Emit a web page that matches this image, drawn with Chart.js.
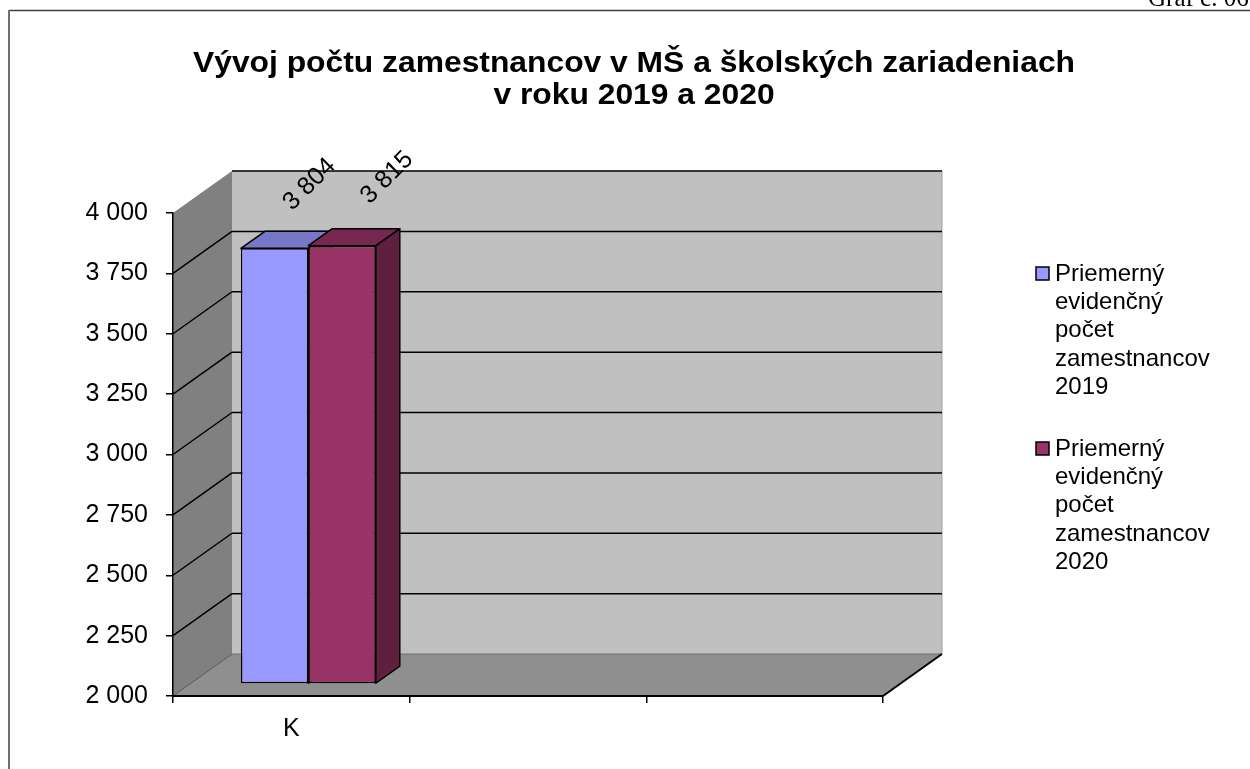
<!DOCTYPE html>
<html lang="sk">
<head>
<meta charset="utf-8">
<title>Vývoj počtu zamestnancov</title>
<script src="https://cdn.jsdelivr.net/npm/chart.js@4.4.1/dist/chart.umd.min.js"></script>
<style>
  html, body { margin: 0; padding: 0; background: #fff; }
</style>
</head>
<body>
<canvas id="barChart" width="1250" height="769"></canvas>
<script>
'use strict';

// data
const categories = ['K', '', ''];
const seriesNames = [
  'Priemerný evidenčný počet zamestnancov 2019',
  'Priemerný evidenčný počet zamestnancov 2020'
];
const values2019 = [3804, null, null];
const values2020 = [3815, null, null];
const seriesColors = ['#9999ff', '#993366'];
const yMin = 2000;
const yMax = 4000;
const yStep = 250;
const titleLines = ['Vývoj počtu zamestnancov v MŠ a školských zariadeniach', 'v roku 2019 a 2020'];
const pageNote = 'Graf č. 06';

// 3d look (excel style)
const wallDepth = { dx: 59, dy: -42 };
const barShift = { dx: 17, dy: -12 };
const barDepth = { dx: 24, dy: -17 };
const sansFont = '"Liberation Sans", Arial, sans-serif';

function fmt(v) {
  return String(v).replace(/\B(?=(\d{3})+(?!\d))/g, ' ');
}

function shade(hex, f) {
  const n = parseInt(hex.slice(1), 16);
  const r = Math.round(((n >> 16) & 255) * f);
  const g = Math.round(((n >> 8) & 255) * f);
  const b = Math.round((n & 255) * f);
  return 'rgb(' + r + ',' + g + ',' + b + ')';
}

function poly(c, pts, fill, stroke, lw) {
  c.beginPath();
  c.moveTo(pts[0][0], pts[0][1]);
  for (let i = 1; i < pts.length; i++) c.lineTo(pts[i][0], pts[i][1]);
  c.closePath();
  if (fill) { c.fillStyle = fill; c.fill(); }
  if (stroke) { c.strokeStyle = stroke; c.lineWidth = lw || 1; c.stroke(); }
}

function line(c, x1, y1, x2, y2, color, lw) {
  c.beginPath();
  c.moveTo(x1, y1);
  c.lineTo(x2, y2);
  c.strokeStyle = color;
  c.lineWidth = lw;
  c.stroke();
}

const scenePlugin = {
  id: 'scene',
  beforeDraw(chart) {
    const c = chart.ctx;
    const a = chart.chartArea;
    const y = chart.scales.y;
    const bx = wallDepth.dx, by = wallDepth.dy;
    c.save();
    c.fillStyle = '#fff';
    c.fillRect(0, 0, chart.width, chart.height);

    // page frame + note
    c.fillStyle = '#000';
    c.font = '25px "Liberation Serif", "Times New Roman", serif';
    c.textBaseline = 'alphabetic';
    c.textAlign = 'left';
    c.fillText(pageNote, 1148, 6);
    line(c, 9, 10.5, chart.width, 10.5, '#404040', 1.5);
    line(c, 9, 10, 9, chart.height, '#707070', 2);

    // walls and floor
    poly(c, [[a.left, a.top], [a.left + bx, a.top + by], [a.left + bx, a.bottom + by], [a.left, a.bottom]], '#808080');
    poly(c, [[a.left + bx, a.top + by], [a.right + bx, a.top + by], [a.right + bx, a.bottom + by], [a.left + bx, a.bottom + by]], '#c0c0c0');
    poly(c, [[a.left, a.bottom], [a.right, a.bottom], [a.right + bx, a.bottom + by], [a.left + bx, a.bottom + by]], '#8f8f8f');
    line(c, a.right + bx, a.top + by, a.right + bx, a.bottom + by, '#a0a0a0', 1);
    line(c, a.left, a.bottom, a.left + bx, a.bottom + by, '#555', 1);
    line(c, a.left + bx, a.bottom + by, a.right + bx, a.bottom + by, '#707070', 1);
    line(c, a.right, a.bottom, a.right + bx, a.bottom + by, '#000', 2);

    // gridlines on the walls
    y.ticks.forEach(t => {
      if (t.value === y.min) return;
      const py = y.getPixelForValue(t.value);
      if (t.value !== y.max) line(c, a.left, py, a.left + bx, py + by, '#000', 1.5);
      line(c, a.left + bx, py + by, a.right + bx, py + by, '#000', 1.5);
    });
    c.restore();
  },
  beforeDatasetsDraw(chart) {
    const c = chart.ctx;
    c.save();
    chart.data.datasets.forEach((ds, i) => {
      const meta = chart.getDatasetMeta(i);
      meta.data.forEach((el, j) => {
        if (ds.data[j] == null) return;
        const p = el.getProps(['x', 'y', 'base', 'width'], true);
        const l = p.x - p.width / 2 + barShift.dx;
        const r = p.x + p.width / 2 + barShift.dx;
        const t = p.y + barShift.dy;
        const b = p.base + barShift.dy;
        const ox = barDepth.dx, oy = barDepth.dy;
        c.lineJoin = 'round';
        poly(c, [[r, t], [r + ox, t + oy], [r + ox, b + oy], [r, b]], shade(ds.backgroundColor, 0.62), '#000', 1.5);
        poly(c, [[l, t], [r, t], [r + ox, t + oy], [l + ox, t + oy]], shade(ds.backgroundColor, 0.78), '#000', 1.5);
      });
    });
    c.restore();
    c.save();
    c.translate(barShift.dx, barShift.dy);
  },
  afterDatasetsDraw(chart) {
    const c = chart.ctx;
    c.restore();
    // value labels, rotated like in the original
    c.save();
    c.fillStyle = '#000';
    c.font = '25px ' + sansFont;
    c.textAlign = 'center';
    c.textBaseline = 'middle';
    chart.data.datasets.forEach((ds, i) => {
      chart.getDatasetMeta(i).data.forEach((el, j) => {
        if (ds.data[j] == null) return;
        c.save();
        c.translate(el.x + 52 + i * 10, el.y - 76 - i * 4);
        c.rotate(-Math.PI / 4);
        c.fillText(fmt(ds.data[j]), 0, 0);
        c.restore();
      });
    });
    c.restore();
  },
  afterDraw(chart) {
    const c = chart.ctx;
    c.save();
    // title
    c.fillStyle = '#000';
    c.font = 'bold 29px ' + sansFont;
    c.textAlign = 'center';
    c.textBaseline = 'alphabetic';
    const sx = 882 / c.measureText(titleLines[0]).width;
    titleLines.forEach((txt, k) => {
      c.save();
      c.translate(634, 72 + k * 32);
      c.scale(sx, 1);
      c.fillText(txt, 0, 0);
      c.restore();
    });

    // legend on the right, one word per line
    c.font = '24px ' + sansFont;
    c.textAlign = 'left';
    c.textBaseline = 'middle';
    chart.data.datasets.forEach((ds, i) => {
      const y0 = 274 + i * 175;
      c.fillStyle = ds.backgroundColor;
      c.fillRect(1036, y0 - 7, 13, 13);
      c.strokeStyle = '#000';
      c.lineWidth = 1.5;
      c.strokeRect(1036, y0 - 7, 13, 13);
      c.fillStyle = '#000';
      ds.label.split(' ').forEach((w, k) => {
        c.fillText(w, 1055, y0 + k * 28.3);
      });
    });
    c.restore();
  }
};

const ctx = document.getElementById('barChart').getContext('2d');

const chartObj = {
  type: 'bar',
  data: {
    labels: categories,
    datasets: [{
      label: seriesNames[0],
      data: values2019,
      backgroundColor: seriesColors[0],
      borderColor: '#000',
      borderWidth: 1.5,
      borderSkipped: false,
      clip: false
    }, {
      label: seriesNames[1],
      data: values2020,
      backgroundColor: seriesColors[1],
      borderColor: '#000',
      borderWidth: 1.5,
      borderSkipped: false,
      clip: false
    }]
  },
  options: {
    responsive: false,
    animation: false,
    devicePixelRatio: 1,
    events: [],
    layout: {
      padding: { top: 213, right: 367, bottom: 0, left: 0 }
    },
    datasets: {
      bar: { categoryPercentage: 0.57, barPercentage: 1, base: yMin }
    },
    plugins: {
      legend: { display: false },
      title: { display: false },
      tooltip: { enabled: false }
    },
    scales: {
      x: {
        grid: { drawOnChartArea: false, drawTicks: true, tickLength: 7, color: '#000', lineWidth: 1.5 },
        border: { display: true, color: '#000', width: 2 },
        ticks: { color: '#000', font: { size: 25, family: sansFont }, padding: 11, maxRotation: 0 },
        afterFit(scale) { scale.height = 73; }
      },
      y: {
        min: yMin,
        max: yMax,
        ticks: {
          stepSize: yStep,
          color: '#000',
          padding: 18,
          font: { size: 25, family: sansFont },
          callback: v => fmt(v)
        },
        grid: { drawOnChartArea: false, drawTicks: true, tickLength: 7, color: '#000', lineWidth: 1.5 },
        border: { display: true, color: '#000', width: 1.5 },
        afterFit(scale) { scale.width = 173; }
      }
    }
  },
  plugins: [scenePlugin]
};

const myChart = new Chart(ctx, chartObj);
</script>
</body>
</html>
